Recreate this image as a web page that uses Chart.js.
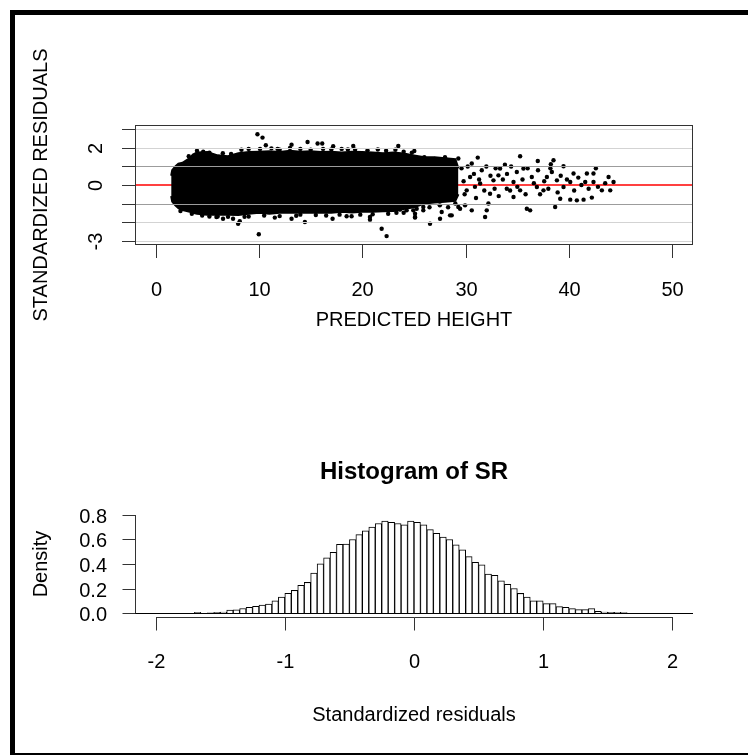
<!DOCTYPE html>
<html><head><meta charset="utf-8">
<script src="https://cdn.jsdelivr.net/npm/chart.js@4.4.1/dist/chart.umd.min.js"></script>
<style>
html,body{margin:0;padding:0;background:#fff;}
#page{position:relative;width:748px;height:756px;overflow:hidden;background:#fff;}
#frame{position:absolute;left:10px;top:10px;width:760px;height:745px;border-left:5px solid #000;border-top:5px solid #000;border-bottom:2px solid #000;box-sizing:border-box;}
canvas{position:absolute;left:0;top:0;}
</style></head><body>
<div id="page">
<div id="frame"></div>
<canvas id="scatter" width="748" height="756"></canvas>
<canvas id="hist" width="748" height="756"></canvas>
</div>
<script>
// ---------------- DATA ----------------
// Top panel: standardized residuals vs predicted height
const xTicksTop = [0, 10, 20, 30, 40, 50];
const yTicksTop = [-3, -2, -1, 0, 1, 2, 3];
const yLabeledTop = [2, 0, -3];
const refLineY = 0;
// dense cloud outline (x, upper edge, lower edge)
const blobX     = [1.5, 1.6, 1.9, 2.2, 2.6, 3.0, 3.3, 3.6, 4, 5, 6, 7, 8, 9, 10, 11, 12, 13, 14, 15, 16, 17, 18, 19, 20, 21, 22, 23, 24, 25, 26, 27, 28, 29, 29.3];
const blobUpper = [0.5, 0.8, 1.0, 1.15, 1.2, 1.35, 1.45, 1.65, 1.75, 1.78, 1.6, 1.55, 1.72, 1.78, 1.8, 1.82, 1.78, 1.85, 1.8, 1.82, 1.78, 1.8, 1.75, 1.8, 1.78, 1.75, 1.72, 1.75, 1.7, 1.6, 1.5, 1.5, 1.45, 1.4, 0.9];
const blobLower = [-0.6, -0.9, -1.1, -1.25, -1.35, -1.4, -1.45, -1.5, -1.55, -1.6, -1.6, -1.6, -1.62, -1.55, -1.5, -1.55, -1.5, -1.5, -1.5, -1.48, -1.5, -1.5, -1.45, -1.48, -1.45, -1.45, -1.42, -1.4, -1.3, -1.2, -1.0, -0.95, -0.9, -0.85, -0.5];
// individual points (outliers, ragged edges, sparse tail)
const sparsePoints = [
 [9.85,2.74],[10.34,2.56],[10.66,2.15],[13.15,2.18],[14.70,2.32],[15.67,2.24],[16.12,2.24],[17.18,2.09],[19.12,2.11],[23.48,2.11],[25.03,1.84],
 [9.98,-2.66],[14.44,-2.0],[21.87,-2.36],[22.35,-2.76],[20.74,-1.73],[20.74,-1.87],[25.1,-1.55],[25.1,-1.73],[25.26,-1.28],[24.29,-1.37],[23.0,-1.33],[23.64,-1.33],[13.15,-1.82],[11.53,-1.76],[18.48,-1.69],[18.96,-1.69],[17.12,-1.82],[5.88,-1.73],[6.52,-1.82],[7.49,-1.82],[7.98,-2.09],[8.14,-1.96],
 [4.0,1.85],[4.6,1.8],[5.2,1.75],[8.3,1.9],[9.0,1.95],[10.1,1.95],[11.2,1.98],[12.0,1.9],[13.0,2.0],[14.0,1.95],[15.0,1.9],[16.2,1.95],[17.0,1.92],[18.0,1.95],[19.3,1.9],[20.5,1.88],[21.5,1.92],[22.3,1.85],[23.2,1.9],[24.0,1.8],[24.8,1.75],
 [3.5,-1.55],[4.5,-1.65],[5.2,-1.7],[6.0,-1.7],[9.0,-1.7],[10.5,-1.65],[12.0,-1.68],[14.0,-1.6],[15.5,-1.62],[16.5,-1.65],[19.8,-1.6],[21.0,-1.58],[22.5,-1.55],[24.0,-1.5],
 [29.29,1.43],[31.17,1.48],[35.27,1.55],[36.98,1.30],[38.5,1.34],[38.24,1.12],[39.47,1.01],
 [44.31,0.16],[43.83,0.43],[43.99,-0.29],[43.18,-0.29],[42.37,0.16],[42.37,0.62],[41.73,0.62],[41.57,0.16],[42.21,-0.68],[41.41,-0.79],[40.76,-0.83],[40.12,-0.79],[40.44,0.62],[40.12,0.16],[39.47,-0.11],[39.15,-0.74],[38.83,0.25],[38.34,0.70],[37.86,0.43],[37.53,-0.29],[36.89,-0.11],[36.40,0.43],[36.24,-1.37],[35.92,-1.28],[38.66,-1.19],[35.59,0.89],[34.95,0.70],[34.63,0.16],[35.27,-0.29],[34.63,-0.65],[33.98,-0.2],[33.33,0.89],[33.17,0.52],[32.69,0.25],[32.36,-0.47],[32.2,-1.0],[32.04,-1.37],[31.88,-1.73],[31.56,0.8],[31.4,0.08],[30.59,1.16],[30.43,0.43],[30.1,-0.29],[30.59,-1.37],[29.94,-1.1],[29.46,-1.28],[28.65,-1.64],[27.68,-1.46],[27.52,-1.82],[26.55,-2.09],[25.1,-1.76],[25.9,-1.37],[24.93,-1.37],[25.9,-1.19],[28.49,-1.64],[29.29,-1.19],
 [29.6,0.9],[29.8,0.2],[29.9,-0.5],[30.2,1.0],[30.8,0.6],[30.9,-0.1],[31.0,-0.7],[31.3,0.3],[31.8,-0.3],[32.0,1.0],[32.4,0.5],[32.8,-0.2],[32.9,0.9],[33.2,-0.6],[33.6,0.3],[33.8,1.1],[34.0,0.6],[34.3,-0.3],[34.4,1.0],[35.0,-0.1],[35.5,0.3],[35.8,-0.5],[36.0,0.9],[36.6,0.1],[37.0,0.8],[37.2,-0.5],[37.6,0.2],[38.0,-0.2],[38.2,0.9],[38.9,-0.4],[39.2,0.5],[39.8,0.3],[40.5,-0.3],[40.9,0.4],[41.2,0.0],[41.9,-0.2],[42.6,0.9],[42.8,-0.1],[43.5,0.1],
 [26.0,1.5],[26.5,-1.2],[27.0,1.4],[27.5,-1.1],[28.0,1.5],[28.3,-1.2],[28.8,1.3],[29.0,-1.0],
 [3.2,1.55],[6.5,1.72],[7.3,1.68],[11.8,1.95],[18.6,1.92],[2.4,-1.4],[7.0,-1.72],[8.6,-1.72],[13.6,-1.66],[17.8,-1.6],[23.3,-1.5]
];

// Bottom panel: histogram of standardized residuals (bin width 0.05)
const binCenters = [
 -2.175,-2.125,-2.075,-2.025,-1.975,-1.925,-1.875,-1.825,-1.775,-1.725,
 -1.675,-1.625,-1.575,-1.525,-1.475,-1.425,-1.375,-1.325,-1.275,-1.225,
 -1.175,-1.125,-1.075,-1.025,-0.975,-0.925,-0.875,-0.825,-0.775,-0.725,
 -0.675,-0.625,-0.575,-0.525,-0.475,-0.425,-0.375,-0.325,-0.275,-0.225,
 -0.175,-0.125,-0.075,-0.025,0.025,0.075,0.125,0.175,0.225,0.275,
 0.325,0.375,0.425,0.475,0.525,0.575,0.625,0.675,0.725,0.775,
 0.825,0.875,0.925,0.975,1.025,1.075,1.125,1.175,1.225,1.275,
 1.325,1.375,1.425,1.475,1.525,1.575,1.625,1.675,1.725,1.775,
 1.825,1.875,1.925,1.975,2.025,2.075,2.125,2.175
];
const density = [
 0,0,0,0,0,0,0,0,0,0,
 0.006,0,0.001,0.006,0.008,0.025,0.027,0.037,0.046,0.055,
 0.066,0.074,0.100,0.130,0.160,0.185,0.226,0.250,0.327,0.402,
 0.450,0.495,0.560,0.562,0.600,0.640,0.670,0.700,0.730,0.750,
 0.740,0.730,0.720,0.750,0.740,0.720,0.680,0.650,0.620,0.600,
 0.556,0.515,0.460,0.413,0.394,0.317,0.308,0.262,0.234,0.200,
 0.160,0.130,0.100,0.100,0.077,0.077,0.052,0.047,0.036,0.028,
 0.028,0.036,0.014,0.008,0.006,0.006,0.005,0,0,0,
 0,0,0,0,0,0,0,0
];
const xTicksHist = [-2, -1, 0, 1, 2];
const yTicksHist = [0, 0.2, 0.4, 0.6, 0.8];

// ---------------- DRAWING ----------------
const FONT = '"Liberation Sans", Arial, Helvetica, sans-serif';
const AXIS_COLOR = '#333';
function seg(ctx, x1, y1, x2, y2) { ctx.beginPath(); ctx.moveTo(x1, y1); ctx.lineTo(x2, y2); ctx.stroke(); }
function text(ctx, s, x, y, opt) {
  opt = opt || {};
  ctx.save();
  ctx.font = (opt.bold ? 'bold ' : '') + (opt.size || 20) + 'px ' + FONT;
  ctx.fillStyle = '#000';
  ctx.textAlign = opt.align || 'center';
  ctx.textBaseline = 'middle';
  ctx.translate(x, y);
  if (opt.rot) ctx.rotate(-Math.PI / 2);
  ctx.fillText(s, 0, 0);
  ctx.restore();
}
const TICK = 13;

const topPlugin = {
  id: 'topAxes',
  afterDatasetsDraw(chart) {
    const { ctx, chartArea: a, scales: { y } } = chart;
    ctx.save();
    ctx.lineWidth = 1;
    yTicksTop.forEach(v => {
      if (v === refLineY) return;
      const py = Math.round(y.getPixelForValue(v)) + 0.5;
      ctx.strokeStyle = Math.abs(v) === 1 ? '#9c9c9c' : '#d3d3d3';
      seg(ctx, a.left, py, a.right, py);
    });
    ctx.restore();
  },
  afterDraw(chart) {
    const { ctx, chartArea: a, scales: { x, y } } = chart;
    ctx.save();
    ctx.lineWidth = 1;
    ctx.strokeStyle = AXIS_COLOR;
    ctx.strokeRect(a.left + 0.5, a.top + 0.5, a.right - a.left - 1, a.bottom - a.top - 1);
    xTicksTop.forEach(v => {
      const px = Math.round(x.getPixelForValue(v)) + 0.5;
      seg(ctx, px, a.bottom, px, a.bottom + TICK);
      text(ctx, String(v), px, a.bottom + 45);
    });
    yTicksTop.forEach(v => {
      const py = Math.round(y.getPixelForValue(v)) + 0.5;
      seg(ctx, a.left - TICK, py, a.left, py);
      if (yLabeledTop.includes(v)) text(ctx, String(v), 96, py, { rot: true });
    });
    text(ctx, 'PREDICTED HEIGHT', (a.left + a.right) / 2, 320);
    text(ctx, 'STANDARDIZED RESIDUALS', 41, (a.top + a.bottom) / 2, { rot: true });
    ctx.restore();
  }
};

new Chart(document.getElementById('scatter'), {
  type: 'scatter',
  data: {
    datasets: [
      { type: 'line', data: blobX.map((x, i) => ({ x, y: blobLower[i] })), borderColor: '#000', borderWidth: 2, pointRadius: 0, fill: false, tension: 0 },
      { type: 'line', data: blobX.map((x, i) => ({ x, y: blobUpper[i] })), borderColor: '#000', borderWidth: 2, pointRadius: 0, fill: '-1', backgroundColor: '#000', tension: 0 },
      { type: 'scatter', data: sparsePoints.map(([x, y]) => ({ x, y })), pointRadius: 2.2, backgroundColor: '#000', borderWidth: 0 },
      { type: 'line', data: [{ x: -2, y: refLineY }, { x: 52, y: refLineY }], borderColor: '#ff0000', borderWidth: 1.6, pointRadius: 0, fill: false }
    ]
  },
  options: {
    responsive: false, animation: false, events: [],
    layout: { padding: { left: 135, right: 55, top: 125, bottom: 511 } },
    plugins: { legend: { display: false }, tooltip: { enabled: false } },
    scales: {
      x: { type: 'linear', min: -2, max: 52, display: false },
      y: { type: 'linear', min: -3.24, max: 3.24, display: false }
    }
  },
  plugins: [topPlugin]
});

const histPlugin = {
  id: 'histAxes',
  afterDatasetsDraw(chart) {
    const { ctx, chartArea: a, scales: { y } } = chart;
    ctx.save();
    ctx.lineWidth = 1;
    ctx.strokeStyle = '#000';
    const py = Math.round(y.getPixelForValue(0)) + 0.5;
    seg(ctx, a.left, py, a.right, py);
    ctx.restore();
  },
  afterDraw(chart) {
    const { ctx, chartArea: a, scales: { x, y } } = chart;
    ctx.save();
    ctx.lineWidth = 1;
    ctx.strokeStyle = AXIS_COLOR;
    const ay = Math.round(a.bottom) + 0.5;
    seg(ctx, Math.round(x.getPixelForValue(xTicksHist[0])), ay, Math.round(x.getPixelForValue(xTicksHist[xTicksHist.length - 1])) + 1, ay);
    xTicksHist.forEach(v => {
      const px = Math.round(x.getPixelForValue(v)) + 0.5;
      seg(ctx, px, ay, px, ay + TICK);
      text(ctx, String(v), px, ay + 45);
    });
    const ax = Math.round(a.left) + 0.5;
    seg(ctx, ax, Math.round(y.getPixelForValue(yTicksHist[0])), ax, Math.round(y.getPixelForValue(yTicksHist[yTicksHist.length - 1])));
    yTicksHist.forEach(v => {
      const py = Math.round(y.getPixelForValue(v)) + 0.5;
      seg(ctx, ax - TICK, py, ax, py);
      text(ctx, v.toFixed(1), 107, py + 2, { align: 'right' });
    });
    text(ctx, 'Histogram of SR', (a.left + a.right) / 2, 472, { bold: true, size: 24 });
    text(ctx, 'Standardized residuals', (a.left + a.right) / 2, 715);
    text(ctx, 'Density', 41, (a.top + a.bottom) / 2, { rot: true });
    ctx.restore();
  }
};

new Chart(document.getElementById('hist'), {
  type: 'bar',
  data: {
    datasets: [{
      data: binCenters.map((c, i) => ({ x: c, y: density[i] })),
      backgroundColor: '#fff', borderColor: '#000', borderWidth: 1,
      barPercentage: 1, categoryPercentage: 1
    }]
  },
  options: {
    responsive: false, animation: false, events: [],
    layout: { padding: { left: 135, right: 55, top: 511, bottom: 139 } },
    plugins: { legend: { display: false }, tooltip: { enabled: false } },
    scales: {
      x: { type: 'linear', min: -2.16, max: 2.16, display: false, offset: false },
      y: { type: 'linear', min: -0.032, max: 0.832, display: false }
    }
  },
  plugins: [histPlugin]
});
</script>
</body></html>
